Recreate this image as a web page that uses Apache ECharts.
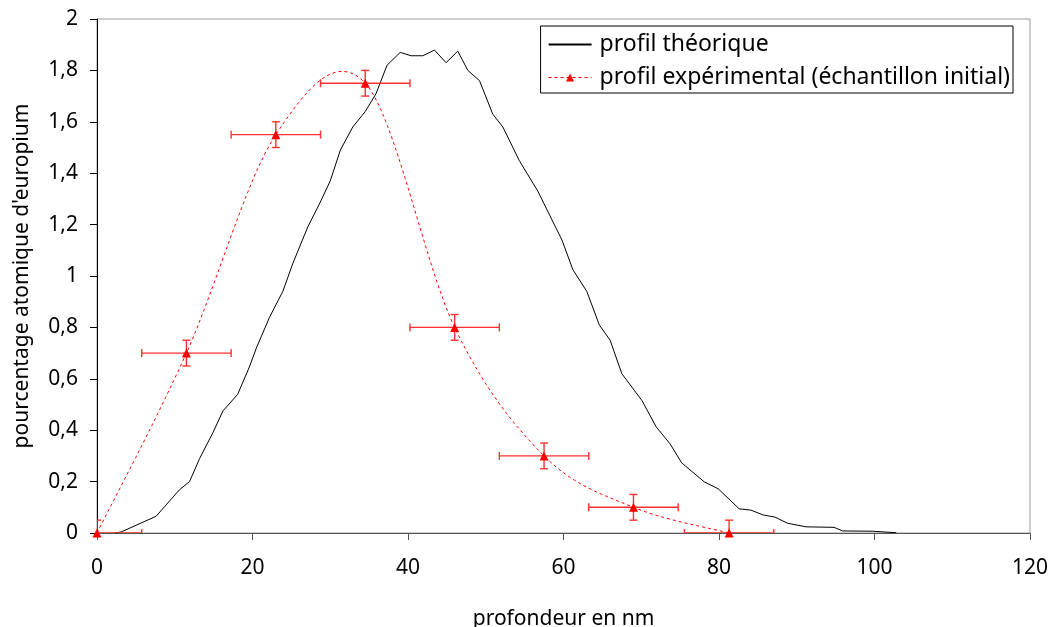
<!DOCTYPE html>
<html><head><meta charset="utf-8">
<script src="https://cdn.jsdelivr.net/npm/echarts@6/dist/echarts.min.js"></script>
<style>html,body{margin:0;padding:0;background:#fff}#c{width:1050px;height:627px}</style>
</head><body><div id="c"></div>
<script>
const theoX = [2.3,3.1,7.6,10.6,11.9,13.2,14.9,16.2,18.1,19.6,20.5,22.2,23.9,25.2,27.1,28.6,30.0,31.3,32.9,34.5,35.9,37.3,39.0,40.4,41.9,43.4,44.9,46.4,47.7,49.2,50.9,52.2,54.3,56.7,59.8,61.2,63.0,64.6,66.0,67.5,70.1,71.9,73.7,75.2,78.1,79.9,82.6,84.1,85.7,87.2,88.8,91.2,94.8,95.9,99.7,102.8];
const theoY = [0,0.004,0.065,0.168,0.2,0.29,0.39,0.475,0.54,0.646,0.72,0.84,0.94,1.05,1.19,1.28,1.37,1.49,1.58,1.64,1.71,1.82,1.87,1.857,1.857,1.879,1.83,1.875,1.80,1.76,1.63,1.58,1.45,1.33,1.14,1.025,0.94,0.81,0.75,0.62,0.515,0.414,0.347,0.273,0.199,0.172,0.094,0.089,0.07,0.062,0.038,0.024,0.022,0.008,0.007,0.001];
const expX = [0,11.5,23,34.5,46,57.5,69,81.3];
const expY = [0,0.7,1.55,1.75,0.8,0.3,0.1,0];
const errX = [5.75,5.75,5.75,5.75,5.75,5.75,5.75,5.75];
const errY = [0.05,0.05,0.05,0.05,0.05,0.05,0.05,0.05];
const xTicks = {min:0,max:120,interval:20};
const yTicks = {min:0,max:2,interval:0.2};
const nameTheo = 'profil théorique';
const nameExp = 'profil expérimental (échantillon initial)';
const xTitle = 'profondeur en nm';
const yTitle = "pourcentage atomique d'europium";

const FONT = 'Noto Sans';
const chart = echarts.init(document.getElementById('c'), null, {renderer:'canvas'});
const theoData = theoX.map((x,i)=>[x,theoY[i]]);
const expData = expX.map((x,i)=>[x,expY[i]]);
const errData = expX.map((x,i)=>[x,expY[i],errX[i],errY[i]]);
const RED = '#ff0000';
const DASH = [3,3];

// smoothed (Bezier, Excel-like) curve through the experimental points, drawn in pixel space
function smoothRender(params, api){
  const P = expX.map((x,i)=>api.coord([x,expY[i]]));
  const n = P.length;
  let d = 'M' + P[0][0] + ' ' + P[0][1];
  for(let i=0;i<n-1;i++){
    const p0=P[Math.max(i-1,0)], p1=P[i], p2=P[i+1], p3=P[Math.min(i+2,n-1)];
    const c1=[p1[0]+(p2[0]-p0[0])/6, p1[1]+(p2[1]-p0[1])/6];
    const c2=[p2[0]-(p3[0]-p1[0])/6, p2[1]-(p3[1]-p1[1])/6];
    d += ' C'+c1[0]+' '+c1[1]+' '+c2[0]+' '+c2[1]+' '+p2[0]+' '+p2[1];
  }
  return {type:'path',shape:{pathData:d},
    style:{fill:null,stroke:RED,lineWidth:1,lineDash:DASH}};
}

chart.setOption({
  animation:false,
  textStyle:{fontFamily:FONT},
  grid:{left:97,right:20,top:19,bottom:94,show:true,borderColor:'#9a9a9a',borderWidth:1,
        containLabel:false,outerBoundsMode:'none'},
  legend:{
    orient:'vertical', right:37, top:26, padding:[7,3,4,7], itemGap:10,
    borderColor:'#000', borderWidth:1, backgroundColor:'#fff',
    itemWidth:43, itemHeight:10,
    textStyle:{fontFamily:FONT,fontSize:23,color:'#000',padding:[0,0,0,3]},
    data:[
      {name:nameTheo,itemStyle:{opacity:0}},
      {name:nameExp,lineStyle:{color:RED,width:1,type:DASH,opacity:1}}
    ]
  },
  xAxis:{
    type:'value', min:xTicks.min, max:xTicks.max, interval:xTicks.interval,
    name:xTitle, nameLocation:'middle', nameGap:76,
    nameTextStyle:{fontFamily:FONT,fontSize:21,color:'#000'},
    axisLine:{show:true,lineStyle:{color:'#555',width:1}},
    axisTick:{show:true,length:7,inside:false,lineStyle:{color:'#555'}},
    axisLabel:{fontFamily:FONT,fontSize:21,color:'#000',margin:25},
    splitLine:{show:false}
  },
  yAxis:{
    type:'value', min:yTicks.min, max:yTicks.max, interval:yTicks.interval,
    name:yTitle, nameLocation:'middle', nameGap:64,
    nameTextStyle:{fontFamily:FONT,fontSize:21,color:'#000'},
    axisLine:{show:true,lineStyle:{color:'#000',width:1}},
    axisTick:{show:true,length:7,lineStyle:{color:'#000'}},
    axisLabel:{fontFamily:FONT,fontSize:21,color:'#000',margin:19,
      formatter:v=>String(Math.round(v*10)/10).replace('.',',')},
    splitLine:{show:false}
  },
  series:[
    {name:nameTheo,type:'line',data:theoData,showSymbol:false,symbol:'none',
     lineStyle:{color:'#000',width:1},itemStyle:{color:'#000'},z:3},
    {name:nameExp,type:'line',data:expData,symbol:'triangle',symbolSize:9,
     lineStyle:{color:RED,width:1,type:DASH,opacity:0},itemStyle:{color:RED},z:6},
    {type:'custom',clip:true,data:[[expX[0],expY[0]]],z:5,silent:true,renderItem:smoothRender},
    {type:'custom',clip:true,data:errData,z:4,silent:true,
     renderItem:function(params,api){
       const x=api.value(0),y=api.value(1),ex=api.value(2),ey=api.value(3);
       const l=api.coord([x-ex,y]),r=api.coord([x+ex,y]);
       const t=api.coord([x,y+ey]),b=api.coord([x,y-ey]);
       const c=4,st={stroke:'#ff3030',lineWidth:1.4};
       return {type:'group',children:[
         {type:'line',shape:{x1:l[0],y1:l[1],x2:r[0],y2:r[1]},style:st},
         {type:'line',shape:{x1:l[0],y1:l[1]-c,x2:l[0],y2:l[1]+c},style:st},
         {type:'line',shape:{x1:r[0],y1:r[1]-c,x2:r[0],y2:r[1]+c},style:st},
         {type:'line',shape:{x1:t[0],y1:t[1],x2:b[0],y2:b[1]},style:st},
         {type:'line',shape:{x1:t[0]-c,y1:t[1],x2:t[0]+c,y2:t[1]},style:st},
         {type:'line',shape:{x1:b[0]-c,y1:b[1],x2:b[0]+c,y2:b[1]},style:st}
       ]};
     }}
  ]
});
</script></body></html>
